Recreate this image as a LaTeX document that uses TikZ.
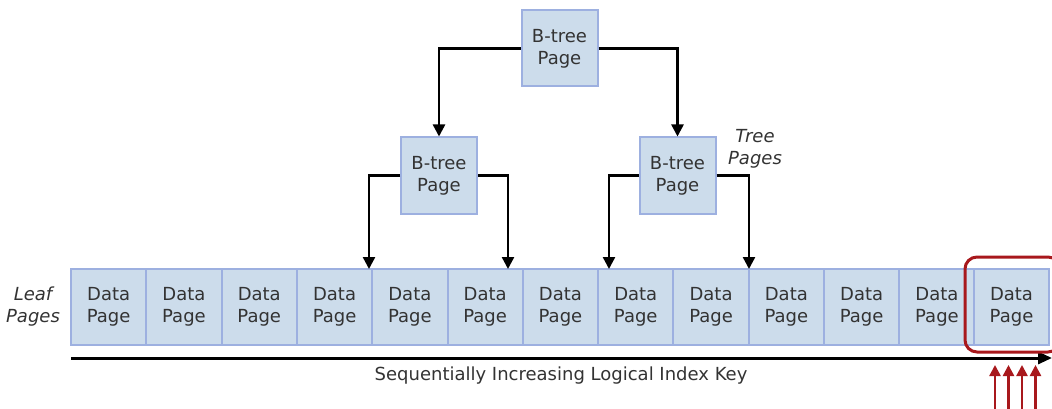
\documentclass[tikz,border=0pt]{standalone}
\usepackage{fontspec}
\setmainfont{DejaVu Sans}
\usetikzlibrary{arrows.meta}
\definecolor{pagefill}{HTML}{CCDCEB}
\definecolor{pageline}{HTML}{9DB0E0}
\definecolor{textgray}{HTML}{333333}
\definecolor{markred}{HTML}{A8181C}
\tikzset{
	page/.style={draw=pageline, fill=pagefill, line width=2pt, text=textgray, align=center, inner sep=0pt},
	treepage/.style={page, minimum width=76pt, minimum height=76pt},
	datapage/.style={page, minimum width=75.3pt, minimum height=76pt},
	link/.style={-{Triangle[length=12pt,width=12pt]}, line width=2.4pt, black},
	sidelbl/.style={text=textgray, align=center, font=\fontsize{18}{22}\selectfont\itshape}
}
\begin{document}
\begin{tikzpicture}
			[
			x=1pt, y=-1pt, font=\fontsize{18}{22}\selectfont, >=latex
			%Voreinstellung
			]
			\useasboundingbox (0,0) rectangle (1052,409);
			
			%Tree pages
			\node[treepage] (top) at (559.5,48.5) {B-tree\\Page};
			\node[treepage] (midl) at (439,175.5) {B-tree\\Page};
			\node[treepage] (midr) at (677.5,175.5) {B-tree\\Page};
			\node[sidelbl] (treelbl) at (755,149) {Tree\\Pages};
			
			%Leaf pages
			\foreach \i in {1,...,12}
				\node[datapage] (d\i) at ({71+75.3*(\i-0.5)},307) {Data\\Page};
			\node[datapage] (d13) at (1011.5,307) {Data\\Page};
			\node[sidelbl] (leaflbl) at (33,307) {Leaf\\Pages};
			
			%Pfeilenden
			\coordinate (e1) at (369,269);
			\coordinate (e2) at (508,269);
			\coordinate (e3) at (609,269);
			\coordinate (e4) at (749,269);
			
			%Verbindungen
			\draw[link] (top.west) -| (midl.north);
			\draw[link] (top.east) -| (midr.north);
			\draw[link] (midl.west) -| (e1);
			\draw[link] (midl.east) -| (e2);
			\draw[link] (midr.west) -| (e3);
			\draw[link] (midr.east) -| (e4);
			
			%Achse
			\coordinate (ks) at (71,358);
			\coordinate (ke) at (1052,358);
			\draw[-{Triangle[length=14pt,width=12pt]}, line width=3pt] (ks) -- (ke);
			\node[text=textgray] (key) at (561,376) {Sequentially Increasing Logical Index Key};
			
			%Markierung
			\draw[markred, line width=3pt, rounded corners=12pt] (965,257) rectangle (1060,352);
			\foreach \x [count=\j] in {995,1008.5,1022,1035.5}
			{
				\coordinate (r\j) at (\x,409);
				\draw[-{Triangle[length=11pt,width=11pt]}, markred, line width=2.4pt] (r\j) -- (\x,365);
			}
		\end{tikzpicture}
\end{document}
